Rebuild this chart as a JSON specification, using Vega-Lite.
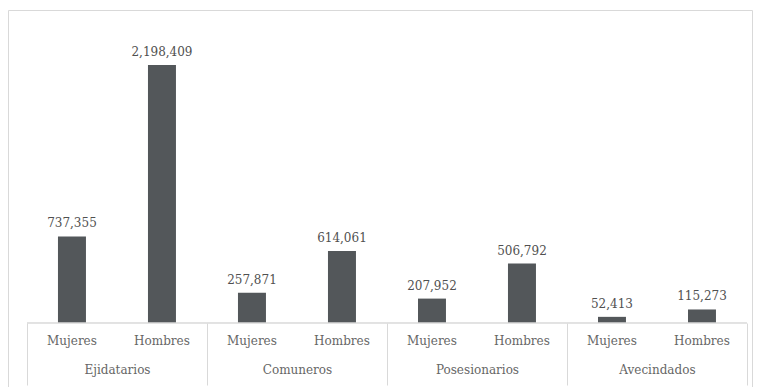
{
  "$schema": "https://vega.github.io/schema/vega-lite/v6.json",
  "width": 744,
  "height": 380,
  "autosize": "none",
  "padding": {"left": 8, "top": 10, "right": 8, "bottom": 0},
  "background": "white",
  "config": {
    "view": {"stroke": "#d9d9d9", "strokeWidth": 1},
    "font": "DejaVu Serif",
    "axis": {"labelFont": "DejaVu Serif"},
    "text": {"font": "DejaVu Serif"}
  },
  "data": {
    "values": [
      {"group": "Ejidatarios", "sex": "Mujeres", "key": "Ejidatarios|Mujeres", "value": 737355},
      {"group": "Ejidatarios", "sex": "Hombres", "key": "Ejidatarios|Hombres", "value": 2198409},
      {"group": "Comuneros", "sex": "Mujeres", "key": "Comuneros|Mujeres", "value": 257871},
      {"group": "Comuneros", "sex": "Hombres", "key": "Comuneros|Hombres", "value": 614061},
      {"group": "Posesionarios", "sex": "Mujeres", "key": "Posesionarios|Mujeres", "value": 207952},
      {"group": "Posesionarios", "sex": "Hombres", "key": "Posesionarios|Hombres", "value": 506792},
      {"group": "Avecindados", "sex": "Mujeres", "key": "Avecindados|Mujeres", "value": 52413},
      {"group": "Avecindados", "sex": "Hombres", "key": "Avecindados|Hombres", "value": 115273}
    ]
  },
  "layer": [
    {
      "encoding": {
        "x": {
          "field": "key",
          "type": "nominal",
          "sort": null,
          "scale": {"paddingInner": 0.689, "paddingOuter": 0.4778, "align": 0.581},
          "axis": {
            "title": null,
            "orient": "bottom",
            "offset": -67,
            "ticks": false,
            "domain": false,
            "labelAngle": 0,
            "labelPadding": 12,
            "labelFont": "DejaVu Serif",
            "labelFontSize": 12,
            "labelFontWeight": 300,
            "labelColor": "#666666",
            "labelExpr": "split(datum.label, '|')[1]"
          }
        },
        "y": {
          "field": "value",
          "type": "quantitative",
          "scale": {"domain": [-570900, 2667047], "nice": false, "zero": false},
          "axis": null
        }
      },
      "layer": [
        {
          "mark": {"type": "bar", "color": "#53575a"},
          "encoding": {"y2": {"datum": 0}}
        },
        {
          "mark": {"type": "text", "baseline": "bottom", "dy": -6, "fontSize": 12, "fontWeight": 300, "color": "#505050", "font": "DejaVu Serif"},
          "encoding": {"text": {"field": "value", "type": "quantitative", "format": ",d"}}
        }
      ]
    },
    {
      "mark": {"type": "rule", "color": "#d9d9d9", "strokeWidth": 1},
      "encoding": {
        "x": {
          "field": "group",
          "type": "nominal",
          "sort": null,
          "bandPosition": 0,
          "scale": {"paddingInner": 0, "paddingOuter": 0.0667, "align": 0.79},
          "axis": {
            "title": null,
            "orient": "bottom",
            "offset": -67,
            "tickBand": "extent",
            "tickSize": 62,
            "tickColor": "#d9d9d9",
            "domain": false,
            "labelAngle": 0,
            "labelPadding": -21,
            "labelFont": "DejaVu Serif",
            "labelFontSize": 12,
            "labelFontWeight": 300,
            "labelColor": "#666666"
          }
        },
        "x2": {"field": "group", "bandPosition": 1},
        "y": {"datum": 0}
      }
    }
  ],
  "resolve": {"scale": {"x": "independent"}}
}
